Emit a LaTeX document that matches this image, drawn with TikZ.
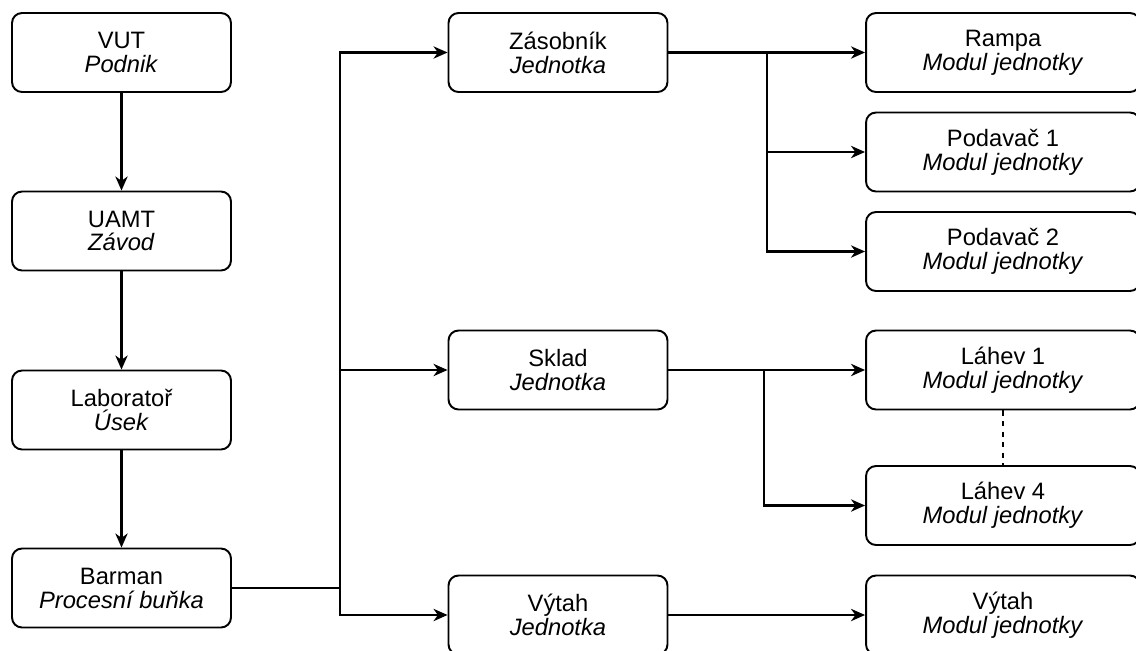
\documentclass[tikz,border=0pt]{standalone}
\usepackage{fontspec}
\setmainfont{Liberation Sans}
\usetikzlibrary{arrows.meta, positioning}
\tikzset{
    unit/.style ={rectangle, rounded corners=0.2cm, draw, line width=1.1pt,
                  minimum width=4.38cm, minimum height=1.58cm, align=center,
                  font=\fontsize{13.5}{13.6}\selectfont},
    modul/.style ={unit, minimum width=5.48cm},
    link/.style ={line width=1.2pt, -{Stealth[length=8pt, width=7pt, inset=2.5pt]}},
    plain/.style ={line width=1.2pt}
}
\begin{document}
\begin{tikzpicture}[x=0.02cm, y=-0.02cm]
  \useasboundingbox[clip] (0,0) rectangle (1136,650);

  % left column
  \node[unit] (vut) at (121.5,52.5) {VUT\\\textit{Podnik}};
  \node[unit] (uamt) at (121.5,231) {UAMT\\\textit{Závod}};
  \node[unit] (lab) at (121.5,410) {Laboratoř\\\textit{Úsek}};
  \node[unit] (barman) at (121.5,588) {Barman\\\textit{Procesní buňka}};

  % units
  \node[unit] (zas) at (558,52.5) {Zásobník\\\textit{Jednotka}};
  \node[unit] (sklad) at (558,370) {Sklad\\\textit{Jednotka}};
  \node[unit] (vytah) at (558,615) {Výtah\\\textit{Jednotka}};

  % modules
  \node[modul] (rampa) at (1003,52.5) {Rampa\\\textit{Modul jednotky}};
  \node[modul] (pod1) at (1003,152) {Podavač 1\\\textit{Modul jednotky}};
  \node[modul] (pod2) at (1003,251.5) {Podavač 2\\\textit{Modul jednotky}};
  \node[modul] (lah1) at (1003,370) {Láhev 1\\\textit{Modul jednotky}};
  \node[modul] (lah4) at (1003,505.5) {Láhev 4\\\textit{Modul jednotky}};
  \node[modul] (vytahm) at (1003,615) {Výtah\\\textit{Modul jednotky}};

  \coordinate (split) at (340,588);
  \coordinate (zsplit) at (767,52.5);
  \coordinate (ssplit) at (764,370);

  \draw[link] (vut) -- (uamt);
  \draw[link] (uamt) -- (lab);
  \draw[link] (lab) -- (barman);

  \draw[plain] (barman) -- (split);
  \draw[link] (split) |- (zas);
  \draw[link] (split) |- (sklad);
  \draw[link] (split) |- (vytah);

  \draw[link] (zas) -- (rampa);
  \draw[link] (zsplit) |- (pod1);
  \draw[link] (zsplit) |- (pod2);

  \draw[link] (sklad) -- (lah1);
  \draw[link] (ssplit) |- (lah4);
  \draw[plain, line width=0.6pt, dashed] (lah1) -- (lah4);

  \draw[link] (vytah) -- (vytahm);
\end{tikzpicture}
\end{document}
